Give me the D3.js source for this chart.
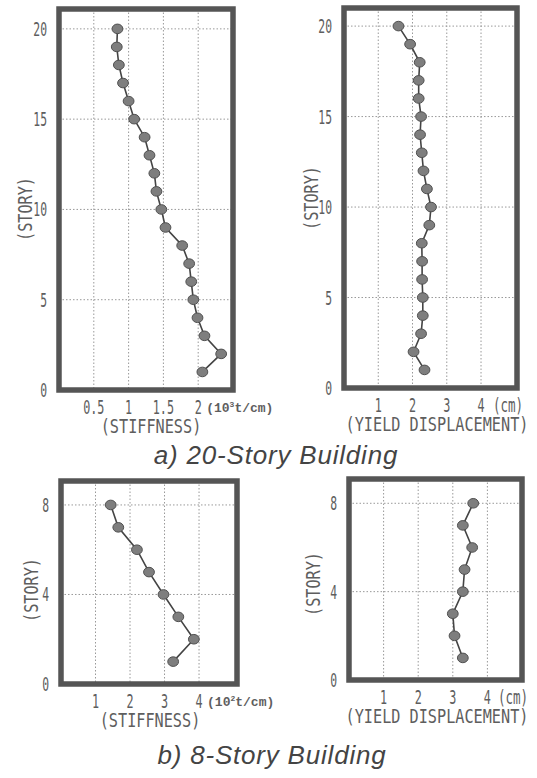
<!DOCTYPE html>
<html>
<head>
<meta charset="utf-8">
<script src="https://cdn.jsdelivr.net/npm/d3@7"></script>
<style>
  body { margin: 0; background: #fff; }
  svg { display: block; }
</style>
</head>
<body>
<div id="chart"></div>
<script>
// story numbers
const stories20 = d3.range(1, 21);
const stories8 = d3.range(1, 9);

// 20-story building, story 1 .. 20
const stiffness20 = [2.06, 2.33, 2.09, 1.99, 1.93, 1.90, 1.87, 1.77, 1.53, 1.47,
                     1.40, 1.37, 1.30, 1.23, 1.08, 1.00, 0.92, 0.86, 0.83, 0.84];
const yieldDisp20 = [2.35, 2.03, 2.25, 2.30, 2.30, 2.28, 2.28, 2.27, 2.49, 2.54,
                     2.42, 2.32, 2.27, 2.22, 2.25, 2.18, 2.18, 2.21, 1.93, 1.59];

// 8-story building, story 1 .. 8
const stiffness8 = [3.25, 3.85, 3.40, 2.97, 2.55, 2.20, 1.66, 1.44];
const yieldDisp8 = [3.29, 3.05, 3.00, 3.29, 3.34, 3.56, 3.29, 3.59];

// ticks
const xTicksStiff20 = [0.5, 1, 1.5, 2];
const xTicksOther = [1, 2, 3, 4];
const yTicks20 = [0, 5, 10, 15, 20];
const yTicks8 = [0, 4, 8];

const width = 537, height = 778;
const textColor = "#5e5e5e";

const svg = d3.select("#chart").append("svg")
    .attr("width", width)
    .attr("height", height);

// narrow plotter-like text
function label(g, x, y, str, opts = {}) {
  const size = opts.size || 19;
  const sx = opts.sx || 0.8;
  return g.append("text")
      .attr("transform", `translate(${x},${y}) rotate(${opts.rotate || 0}) scale(${sx},1)`)
      .attr("font-family", "DejaVu Sans Mono")
      .attr("font-size", size)
      .attr("fill", textColor)
      .attr("text-anchor", opts.anchor || "middle")
      .text(str);
}

function drawPanel(p) {
  const g = svg.append("g");
  const x = d3.scaleLinear().domain(p.xDomain).range([p.left, p.right]);
  const y = d3.scaleLinear().domain(p.yDomain).range([p.bottom, p.top]);

  // grid
  g.selectAll(".gx").data(p.xTicks).join("line")
      .attr("x1", d => x(d)).attr("x2", d => x(d))
      .attr("y1", p.top).attr("y2", p.bottom)
      .attr("stroke", "#999").attr("stroke-width", 1)
      .attr("stroke-dasharray", "1.5,2");
  g.selectAll(".gy").data(p.yTicks.filter(d => d > 0)).join("line")
      .attr("x1", p.left).attr("x2", p.right)
      .attr("y1", d => y(d)).attr("y2", d => y(d))
      .attr("stroke", "#999").attr("stroke-width", 1)
      .attr("stroke-dasharray", "1.5,2");

  // frame
  g.append("rect")
      .attr("x", p.left).attr("y", p.top)
      .attr("width", p.right - p.left).attr("height", p.bottom - p.top)
      .attr("fill", "none")
      .attr("stroke", "#555")
      .attr("stroke-width", 5.5);

  // series
  const pts = p.stories.map((s, i) => [p.values[i], s]);
  g.append("path")
      .datum(pts)
      .attr("fill", "none")
      .attr("stroke", "#444")
      .attr("stroke-width", 1.6)
      .attr("d", d3.line().x(d => x(d[0])).y(d => y(d[1])));
  g.selectAll(".pt").data(pts).join("ellipse")
      .attr("cx", d => x(d[0])).attr("cy", d => y(d[1]))
      .attr("rx", 5.4).attr("ry", 4.8)
      .attr("fill", "#7e7e7e")
      .attr("stroke", "#505050")
      .attr("stroke-width", 1);

  // y tick labels
  p.yTicks.forEach(d => {
    label(g, p.left - 12, y(d) + 7, d, { anchor: "end", sx: 0.6 });
  });
  // x tick labels
  p.xTicks.forEach(d => {
    label(g, x(d), p.bottom + 24, d, { sx: 0.62 });
  });
  // unit
  if (p.unit === "cm") {
    label(g, p.right - 9, p.bottom + 24, "(cm)", { sx: 0.66 });
  } else {
    const u = g.append("text")
        .attr("x", x(p.xTicks[p.xTicks.length - 1]) + 8)
        .attr("y", p.bottom + 22)
        .attr("font-family", "Liberation Mono")
        .attr("font-weight", "bold")
        .attr("font-size", 13)
        .attr("fill", textColor);
    u.append("tspan").text("(10");
    u.append("tspan").attr("font-size", 8).attr("dy", -5).text(p.unit);
    u.append("tspan").attr("dy", 5).text("t/cm)");
  }
  // axis titles
  label(g, p.xTitleX, p.bottom + 43, p.xTitle);
  label(g, p.yTitleX, p.yTitleY, "(STORY)", { rotate: -90 });
}

drawPanel({
  left: 59, right: 233, top: 9, bottom: 390,
  xDomain: [0, 2.5], yDomain: [0, 21.1],
  xTicks: xTicksStiff20, yTicks: yTicks20,
  stories: stories20, values: stiffness20,
  unit: "3", xTitle: "(STIFFNESS)", xTitleX: 151,
  yTitleX: 32, yTitleY: 209
});
drawPanel({
  left: 344, right: 517, top: 8, bottom: 388,
  xDomain: [0, 5.05], yDomain: [0, 21.0],
  xTicks: xTicksOther, yTicks: yTicks20,
  stories: stories20, values: yieldDisp20,
  unit: "cm", xTitle: "(YIELD DISPLACEMENT)", xTitleX: 437,
  yTitleX: 318, yTitleY: 198
});
drawPanel({
  left: 61, right: 237, top: 481, bottom: 684,
  xDomain: [0, 5.1], yDomain: [0, 9.07],
  xTicks: xTicksOther, yTicks: yTicks8,
  stories: stories8, values: stiffness8,
  unit: "2", xTitle: "(STIFFNESS)", xTitleX: 150,
  yTitleX: 38, yTitleY: 590
});
drawPanel({
  left: 349, right: 522, top: 479, bottom: 680,
  xDomain: [0, 5.0], yDomain: [0, 9.1],
  xTicks: xTicksOther, yTicks: yTicks8,
  stories: stories8, values: yieldDisp8,
  unit: "cm", xTitle: "(YIELD DISPLACEMENT)", xTitleX: 437,
  yTitleX: 320, yTitleY: 584
});

// building captions
function caption(x, y, str) {
  svg.append("text")
      .attr("x", x).attr("y", y)
      .attr("text-anchor", "middle")
      .attr("font-family", "Liberation Sans")
      .attr("font-style", "italic")
      .attr("font-size", 26)
      .attr("letter-spacing", 0.8)
      .attr("fill", "#444")
      .text(str);
}
caption(276, 464, "a) 20-Story Building");
caption(272, 764, "b) 8-Story Building");
</script>
</body>
</html>
